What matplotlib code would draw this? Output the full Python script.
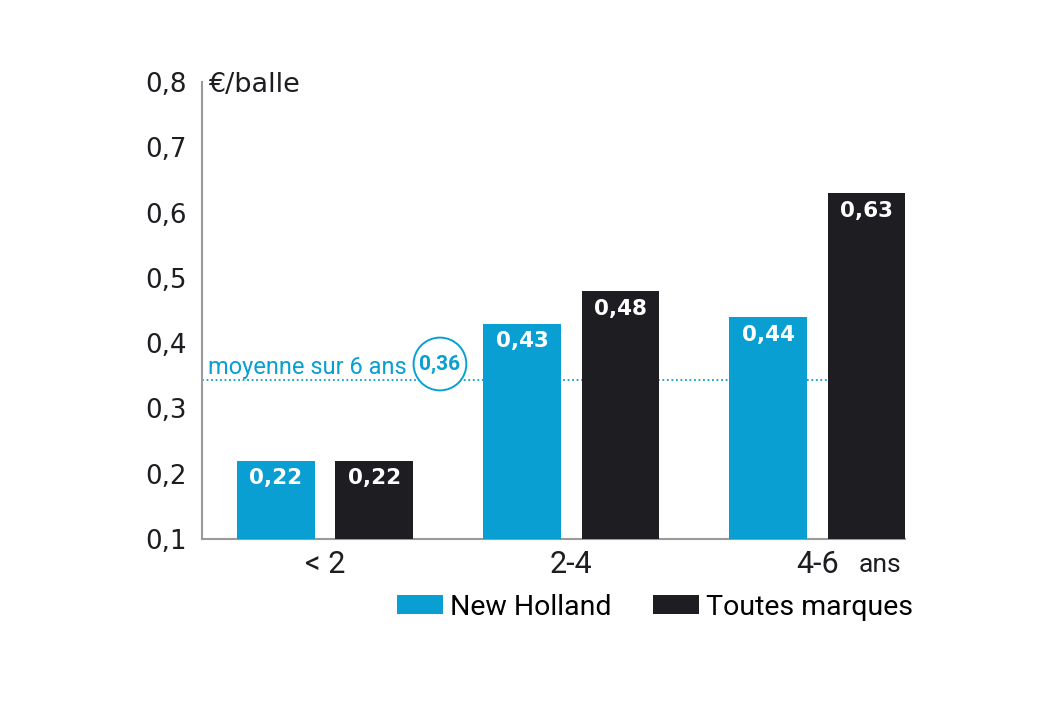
import matplotlib.pyplot as plt
import numpy as np

plt.rcParams['font.family'] = ['Roboto', 'DejaVu Sans']

categories = ['< 2', '2-4', '4-6']
new_holland = [0.22, 0.43, 0.44]
toutes_marques = [0.22, 0.48, 0.63]
series_names = ['New Holland', 'Toutes marques']
yticks = [0.1, 0.2, 0.3, 0.4, 0.5, 0.6, 0.7, 0.8]
avg_label = '0,36'
avg_level = 0.343  # where the dotted line sits in the picture

blue = '#0a9fd2'
black = '#1e1d22'

fig = plt.figure(figsize=(10.57, 7.15), dpi=100)
ax = fig.add_axes([0.191, 0.2462, 0.665, 0.6392])

x = np.arange(len(categories))
w = 0.316
off = 0.2
ax.bar(x - off, [v - 0.1 for v in new_holland], w, bottom=0.1, color=blue, zorder=3, label=series_names[0])
ax.bar(x + off, [v - 0.1 for v in toutes_marques], w, bottom=0.1, color=black, zorder=3, label=series_names[1])

for xs, vals in [(x - off, new_holland), (x + off, toutes_marques)]:
    for xi, v in zip(xs, vals):
        ax.text(xi, v - 0.012, f"{v:.2f}".replace('.', ','), ha='center', va='top',
                color='white', fontsize=15.5, fontweight='bold', family='DejaVu Sans', zorder=4)

# dotted average line, behind the bars
ax.plot([-0.5, 2 + off - w / 2], [avg_level, avg_level], color=blue, lw=1.3,
        ls=(0, (1, 1.5)), zorder=2)
ax.text(-0.475, avg_level + 0.009, 'moyenne sur 6 ans', color=blue, fontsize=17,
        ha='left', va='baseline', zorder=4)
ax.text(0.467, 0.368, avg_label, color=blue, fontsize=15, fontweight='bold',
        ha='center', va='center', zorder=4,
        bbox=dict(boxstyle='circle,pad=0.28', fc='white', ec=blue, lw=1.4))

ax.set_xlim(-0.5, 2.355)
ax.set_ylim(0.1, 0.8)
ax.set_yticks(yticks)
ax.set_yticklabels([f"{t:.1f}".replace('.', ',') for t in yticks], fontsize=18.8,
                   color=black, family='DejaVu Sans')
ax.set_xticks(x)
ax.set_xticklabels(categories, fontsize=22, color=black)
ax.tick_params(axis='both', length=0)
ax.tick_params(axis='y', pad=11)
ax.tick_params(axis='x', pad=8)
for s in ['top', 'right']:
    ax.spines[s].set_visible(False)
for s in ['left', 'bottom']:
    ax.spines[s].set_color('#9a9a9a')
    ax.spines[s].set_linewidth(1.5)

ax.text(-0.475, 0.785, '€/balle', fontsize=19.5, ha='left', va='baseline', color=black,
        family='DejaVu Sans')
ax.text(2.256, -0.0722, 'ans', transform=ax.get_xaxis_transform(), fontsize=19, ha='center',
        va='baseline', color=black)

fig.legend(*ax.get_legend_handles_labels(), loc='center left', bbox_to_anchor=(0.3756, 0.151),
           ncol=2, frameon=False, fontsize=20.5, borderpad=0, borderaxespad=0,
           handlelength=1.62, handleheight=0.66, columnspacing=1.45, handletextpad=0.25)

fig.savefig('out.png', dpi=100, facecolor='white')
